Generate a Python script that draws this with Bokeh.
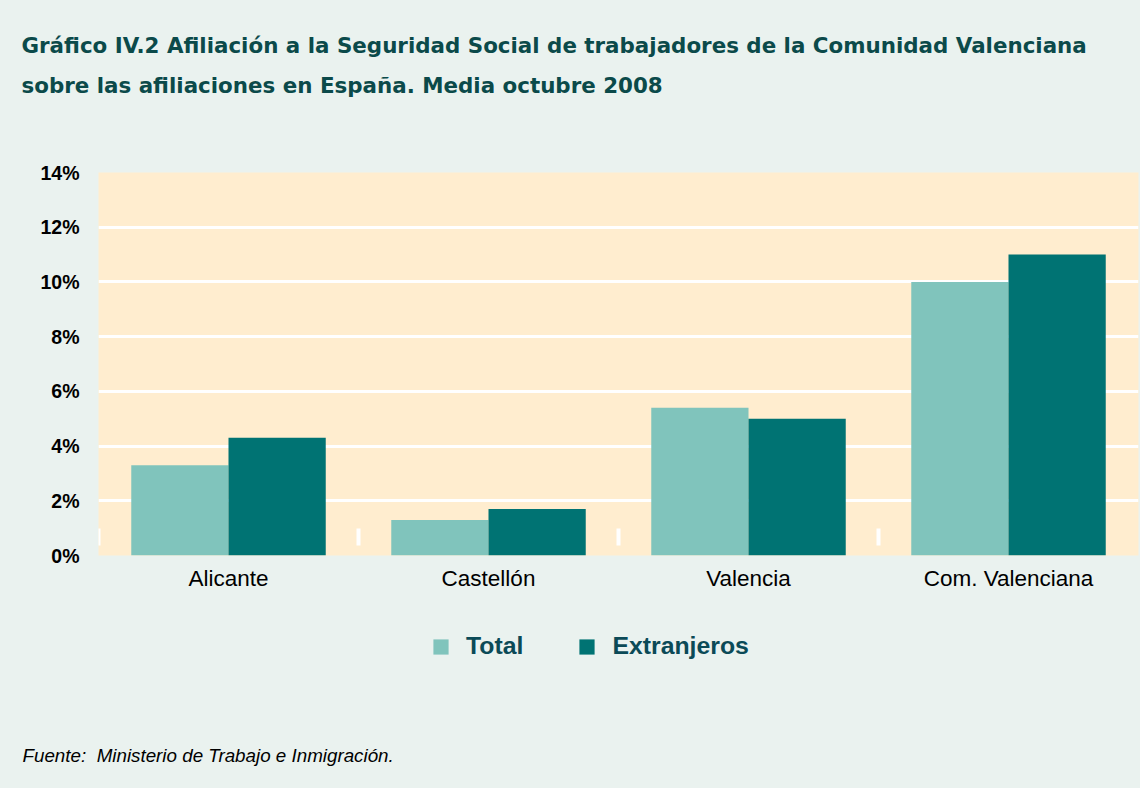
from bokeh.plotting import figure
from bokeh.layouts import column
from bokeh.models import (ColumnDataSource, Range1d, FixedTicker, PrintfTickFormatter,
                          Legend, LegendItem, Title)
from bokeh.transform import dodge
from bokeh.embed import file_html
from bokeh.resources import INLINE

categories = ["Alicante", "Castellón", "Valencia", "Com. Valenciana"]
total = [3.3, 1.3, 5.4, 10.0]
extranjeros = [4.3, 1.7, 5.0, 11.0]
y_ticks = [0, 2, 4, 6, 8, 10, 12, 14]
series_names = ["Total", "Extranjeros"]

title_1 = "Gráfico IV.2 Afiliación a la Seguridad Social de trabajadores de la Comunidad Valenciana"
title_2 = "sobre las afiliaciones en España. Media octubre 2008"
source_text = "Fuente:\u00a0 Ministerio de Trabajo e Inmigración."

PANEL = "#EAF2EF"
PLOT_BG = "#FFEDCF"
C_TOTAL = "#80C4BC"
C_EXTR = "#007373"
TITLE_C = "#0B4A4A"
LEG_C = "#0B4A57"
W = 1140

# ---------------- main chart (page y 0..600)
xpos = [i + 0.5 for i in range(len(categories))]
src = ColumnDataSource(dict(x=xpos, total=total, extr=extranjeros, cat=categories))

p = figure(width=W, height=600, output_backend="svg", toolbar_location=None,
           x_range=Range1d(0, len(categories)), y_range=Range1d(0, 14),
           min_border_left=98, min_border_right=2, min_border_top=172, min_border_bottom=45,
           background_fill_color=PLOT_BG, border_fill_color=PANEL, outline_line_color=None)

bw = 0.374
p.vbar(x=dodge("x", -bw / 2, range=p.x_range), top="total", width=bw, source=src,
       fill_color=C_TOTAL, line_color=None)
p.vbar(x=dodge("x", bw / 2, range=p.x_range), top="extr", width=bw, source=src,
       fill_color=C_EXTR, line_color=None)

bounds = list(range(len(categories)))
p.segment(x0=bounds, x1=bounds, y0=[0.37] * len(bounds), y1=[0.99] * len(bounds),
          line_color="white", line_width=4)

p.xgrid.grid_line_color = None
p.ygrid.grid_line_color = "white"
p.ygrid.grid_line_width = 3
p.ygrid.ticker = FixedTicker(ticks=y_ticks)

p.yaxis.ticker = FixedTicker(ticks=y_ticks)
p.yaxis.formatter = PrintfTickFormatter(format="%d%%")
p.yaxis.axis_line_color = None
p.yaxis.major_tick_line_color = None
p.yaxis.minor_tick_line_color = None
p.yaxis.major_label_text_font = "Liberation Sans"
p.yaxis.major_label_text_font_style = "bold"
p.yaxis.major_label_text_font_size = "19.5px"
p.yaxis.major_label_text_color = "black"
p.yaxis.major_label_standoff = 13

p.xaxis.ticker = FixedTicker(ticks=xpos)
p.xaxis.major_label_overrides = {x: c for x, c in zip(xpos, categories)}
p.xaxis.axis_line_color = None
p.xaxis.major_tick_line_color = None
p.xaxis.minor_tick_line_color = None
p.xaxis.major_label_text_font = "Liberation Sans"
p.xaxis.major_label_text_font_size = "22.5px"
p.xaxis.major_label_text_color = "black"
p.xaxis.major_label_standoff = 4

# titles: spacer closest to the frame, then line 2, then line 1
p.add_layout(Title(text=" ", text_font_size="10px", standoff=55), "above")
p.add_layout(Title(text=title_2, align="left", offset=-77, standoff=13,
                   text_font="DejaVu Sans", text_font_style="bold", text_font_size="21.4px",
                   text_color=TITLE_C), "above")
p.add_layout(Title(text=title_1, align="left", offset=-77, standoff=13,
                   text_font="DejaVu Sans", text_font_style="bold", text_font_size="21.4px",
                   text_color=TITLE_C), "above")

# ---------------- legend + source (page y 600..788)
bot = figure(width=W, height=188, output_backend="svg", toolbar_location=None,
             x_range=Range1d(0, 1), y_range=Range1d(0, 1),
             min_border_left=98, min_border_right=2, min_border_top=0, min_border_bottom=64,
             background_fill_color=PANEL, border_fill_color=PANEL, outline_line_color=None)
bot.axis.visible = False
bot.grid.visible = False
dummy = ColumnDataSource(dict(x=[0.5], top=[0.0]))
lt = bot.vbar(x="x", top="top", width=0.001, source=dummy, fill_color=C_TOTAL, line_color=None)
le = bot.vbar(x="x", top="top", width=0.001, source=dummy, fill_color=C_EXTR, line_color=None)
legend = Legend(items=[LegendItem(label=series_names[0], renderers=[lt]),
                       LegendItem(label=series_names[1], renderers=[le])],
                orientation="horizontal", location=(333, 59),
                background_fill_alpha=0, border_line_color=None,
                glyph_width=19, glyph_height=19, label_standoff=16, spacing=54,
                padding=0, margin=0,
                label_text_font="Liberation Sans", label_text_font_style="bold",
                label_text_font_size="24.8px", label_text_color=LEG_C)
bot.add_layout(legend, "center")
bot.add_layout(Title(text=source_text, align="left", offset=-76, standoff=46,
                     text_font="Liberation Sans", text_font_style="italic",
                     text_font_size="18.8px", text_color="black"), "below")

layout = column(p, bot, spacing=0, styles={"background-color": PANEL})
open("out.html", "w").write(file_html(layout, INLINE))
